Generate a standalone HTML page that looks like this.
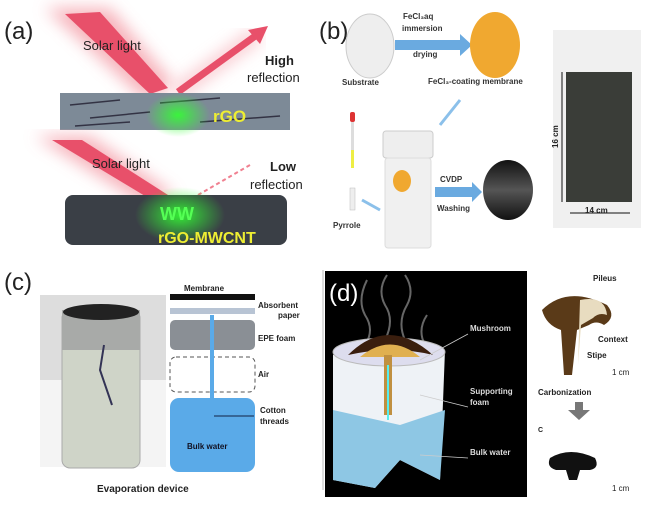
<!DOCTYPE html><html><head><style>body{margin:0;background:#fff}svg{display:block}text{font-family:"Liberation Sans",sans-serif}</style></head><body>
<svg width="650" height="512" viewBox="0 0 650 512">
<defs>
<radialGradient id="g"><stop offset="0" stop-color="#3f3" stop-opacity=".9"/><stop offset="1" stop-color="#3f3" stop-opacity="0"/></radialGradient>
<linearGradient id="bk" x1="0" y1="0" x2="0" y2="1"><stop offset="0" stop-color="#111"/><stop offset=".5" stop-color="#555"/><stop offset="1" stop-color="#111"/></linearGradient>
<filter id="bl"><feGaussianBlur stdDeviation="8"/></filter>
</defs>
<!-- (a) -->
<text x="4" y="39" font-size="24" fill="#222">(a)</text>
<polygon points="45,8 110,8 175,85 145,100" fill="#f4a0aa" opacity=".8" filter="url(#bl)"/>
<polygon points="65,14 100,12 168,88 150,94" fill="#e8506a"/>
<line x1="178" y1="92" x2="258" y2="34" stroke="#f4a0aa" stroke-width="14" opacity=".6" filter="url(#bl)"/>
<line x1="178" y1="92" x2="258" y2="34" stroke="#e8506a" stroke-width="7"/>
<polygon points="268,26 248,30 260,44" fill="#e8506a"/>
<rect x="60" y="93" width="230" height="37" fill="#7d8a97"/>
<g stroke="#334" stroke-width="1.5"><line x1="70" y1="105" x2="120" y2="100"/><line x1="90" y1="118" x2="150" y2="112"/><line x1="160" y1="103" x2="220" y2="98"/><line x1="200" y1="122" x2="280" y2="116"/><line x1="75" y1="126" x2="130" y2="122"/></g>
<ellipse cx="178" cy="115" rx="32" ry="22" fill="url(#g)"/>
<text x="213" y="122" font-size="17" font-weight="bold" fill="#ee3">rGO</text>
<text x="83" y="50" font-size="13" fill="#222">Solar  light</text>
<text x="265" y="65" font-size="13" font-weight="bold" fill="#222">High</text>
<text x="247" y="82" font-size="13" fill="#222">reflection</text>
<polygon points="35,136 90,136 175,195 145,205" fill="#f4a0aa" opacity=".8" filter="url(#bl)"/>
<polygon points="52,140 82,140 168,195 150,199" fill="#e8506a"/>
<line x1="198" y1="195" x2="250" y2="165" stroke="#f08090" stroke-width="2" stroke-dasharray="4,3"/>
<text x="92" y="168" font-size="13" fill="#222">Solar  light</text>
<text x="270" y="171" font-size="13" font-weight="bold" fill="#222">Low</text>
<text x="250" y="189" font-size="13" fill="#222">reflection</text>
<rect x="65" y="195" width="222" height="50" rx="8" fill="#3a3f46"/>
<ellipse cx="180" cy="215" rx="45" ry="28" fill="url(#g)"/>
<text x="160" y="220" font-size="18" font-weight="bold" fill="#5f5">WW</text>
<text x="158" y="243" font-size="16" font-weight="bold" fill="#ee3">rGO-MWCNT</text>
<!-- (b) -->
<text x="319" y="39" font-size="24" fill="#222">(b)</text>
<ellipse cx="370" cy="46" rx="24" ry="32" fill="#eee" stroke="#ccc"/>
<polygon points="395,40 460,40 460,34 472,45 460,56 460,50 395,50" fill="#6aaae0"/>
<text x="403" y="19" font-size="8" font-weight="bold" fill="#333">FeCl₃aq</text>
<text x="402" y="31" font-size="8" font-weight="bold" fill="#333">immersion</text>
<text x="413" y="57" font-size="8" font-weight="bold" fill="#333">drying</text>
<ellipse cx="495" cy="45" rx="25" ry="33" fill="#f0a830"/>
<text x="342" y="85" font-size="8" font-weight="bold" fill="#333">Substrate</text>
<text x="428" y="84" font-size="8" font-weight="bold" fill="#333">FeCl₃-coating membrane</text>
<rect x="553" y="30" width="88" height="198" fill="#f0f0f0"/>
<rect x="566" y="72" width="66" height="130" fill="#3a3d38"/>
<line x1="562" y1="72" x2="562" y2="202" stroke="#111"/>
<line x1="570" y1="213" x2="630" y2="213" stroke="#111"/>
<text x="0" y="0" font-size="8" font-weight="bold" fill="#222" transform="translate(558,148) rotate(-90)">16 cm</text>
<text x="585" y="213" font-size="8" font-weight="bold" fill="#222">14 cm</text>
<rect x="350" y="112" width="5" height="10" rx="2" fill="#d33"/>
<rect x="351" y="122" width="3" height="45" fill="#ddd"/><rect x="351" y="150" width="3" height="18" fill="#ee4"/>
<rect x="350" y="188" width="5" height="22" fill="#eee" stroke="#bbb" stroke-width=".5"/>
<text x="333" y="228" font-size="8" font-weight="bold" fill="#333">Pyrrole</text>
<line x1="460" y1="100" x2="440" y2="125" stroke="#8bc0ea" stroke-width="3"/>
<line x1="362" y1="200" x2="380" y2="210" stroke="#8bc0ea" stroke-width="3"/>
<rect x="383" y="131" width="50" height="27" rx="3" fill="#eee" stroke="#ccc"/>
<rect x="385" y="158" width="46" height="90" rx="3" fill="#f0f0f0" stroke="#ddd"/>
<ellipse cx="402" cy="181" rx="9" ry="11" fill="#f0a830"/>
<polygon points="435,187 472,187 472,182 482,192 472,202 472,197 435,197" fill="#6aaae0"/>
<text x="440" y="182" font-size="8" font-weight="bold" fill="#333">CVDP</text>
<text x="437" y="211" font-size="8" font-weight="bold" fill="#333">Washing</text>
<ellipse cx="508" cy="190" rx="25" ry="30" fill="url(#bk)"/>
<!-- (c) -->
<text x="4" y="290" font-size="24" fill="#222">(c)</text>
<rect x="40" y="295" width="126" height="172" fill="#ddd"/>
<rect x="40" y="380" width="126" height="87" fill="#f4f4f4"/>
<rect x="62" y="310" width="78" height="158" rx="8" fill="#cfd4c8" stroke="#aaa"/>
<rect x="62" y="310" width="78" height="40" fill="#a8aaa8"/>
<ellipse cx="101" cy="312" rx="38" ry="8" fill="#222"/>
<path d="M104,345 L100,370 L112,405" stroke="#335" stroke-width="2" fill="none"/>
<text x="184" y="291" font-size="8" font-weight="bold" fill="#222">Membrane</text>
<rect x="170" y="294" width="85" height="6" fill="#111"/>
<rect x="170" y="308" width="85" height="6" fill="#b8c4d4"/>
<rect x="170" y="320" width="85" height="30" rx="5" fill="#8a8f95"/>
<rect x="170" y="357" width="85" height="35" rx="6" fill="none" stroke="#555" stroke-dasharray="4,3"/>
<rect x="170" y="398" width="85" height="74" rx="9" fill="#5aaae8"/>
<rect x="210" y="315" width="4" height="115" fill="#5aaae8"/>
<line x1="214" y1="416" x2="254" y2="416" stroke="#124" stroke-width="1"/>
<text x="258" y="308" font-size="8" font-weight="bold" fill="#222">Absorbent</text>
<text x="278" y="318" font-size="8" font-weight="bold" fill="#222">paper</text>
<text x="258" y="341" font-size="8" font-weight="bold" fill="#222">EPE foam</text>
<text x="258" y="377" font-size="8" font-weight="bold" fill="#222">Air</text>
<text x="260" y="413" font-size="8" font-weight="bold" fill="#222">Cotton</text>
<text x="260" y="424" font-size="8" font-weight="bold" fill="#222">threads</text>
<text x="187" y="449" font-size="8" font-weight="bold" fill="#112">Bulk water</text>
<text x="97" y="492" font-size="10" font-weight="bold" fill="#222">Evaporation device</text>
<line x1="323" y1="270" x2="323" y2="490" stroke="#bbb"/>
<!-- (d) -->
<rect x="325" y="271" width="202" height="226" fill="#000"/>
<text x="329" y="301" font-size="24" fill="#fff">(d)</text>
<path d="M365,345 q10,-15 0,-30 q-8,-15 2,-35 M385,340 q10,-20 0,-35 q-8,-15 2,-30 M405,340 q-8,-18 2,-35 q8,-15 -2,-30 M425,345 q-8,-15 2,-30" stroke="#666" stroke-width="2" fill="none"/>
<path d="M333,355 L333,480 L375,488 L400,460 L440,480 L445,350 Z" fill="#eef2f6"/>
<path d="M333,410 L333,480 L375,488 L400,460 L440,480 L445,410 L400,425 Z" fill="#8ec7e4"/>
<ellipse cx="389" cy="352" rx="56" ry="14" fill="#dde" stroke="#bbb"/>
<path d="M348,355 q40,-40 85,0 q-40,-10 -85,0" fill="#3a1e0e"/>
<path d="M360,357 q30,-25 60,0 z" fill="#e0b050"/>
<rect x="384" y="355" width="8" height="60" fill="#c09040"/>
<line x1="388" y1="365" x2="388" y2="420" stroke="#5ee" stroke-width="2"/>
<g stroke="#ccc" stroke-width=".8"><line x1="420" y1="360" x2="468" y2="334"/><line x1="420" y1="395" x2="468" y2="407"/><line x1="420" y1="455" x2="468" y2="458"/></g>
<text x="470" y="331" font-size="8" font-weight="bold" fill="#ddd">Mushroom</text>
<text x="470" y="394" font-size="8" font-weight="bold" fill="#ddd">Supporting</text>
<text x="470" y="405" font-size="8" font-weight="bold" fill="#ddd">foam</text>
<text x="470" y="455" font-size="8" font-weight="bold" fill="#ddd">Bulk water</text>
<path d="M542,310 q25,-25 65,-5 q10,12 -3,20 q-8,-5 -15,0 l-12,5 l-5,45 l-8,0 l-3,-45 q-15,-5 -19,-20z" fill="#5a3a18"/>
<path d="M580,300 q25,-5 27,15 q-8,-3 -14,3 l-12,7 l-3,40 z" fill="#e8dcc0"/>
<text x="593" y="281" font-size="8" font-weight="bold" fill="#222">Pileus</text>
<text x="598" y="342" font-size="8" font-weight="bold" fill="#222">Context</text>
<text x="587" y="358" font-size="8" font-weight="bold" fill="#222">Stipe</text>
<text x="612" y="375" font-size="8" fill="#222">1 cm</text>
<text x="538" y="395" font-size="8" font-weight="bold" fill="#222">Carbonization</text>
<polygon points="575,402 583,402 583,410 590,410 579,420 568,410 575,410" fill="#777"/>
<text x="538" y="432" font-size="7" font-weight="bold" fill="#222">C</text>
<path d="M550,458 q20,-12 45,0 q5,10 -5,12 l-10,0 l-3,10 l-8,0 l-3,-10 l-10,0 q-10,-3 -6,-12z" fill="#111"/>
<text x="612" y="491" font-size="8" fill="#222">1 cm</text>
</svg></body></html>
